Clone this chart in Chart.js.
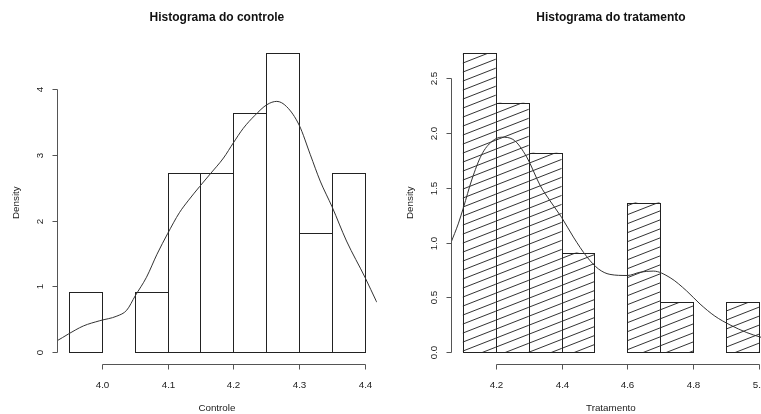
<!DOCTYPE html>
<html>
<head>
<meta charset="utf-8">
<script src="https://cdn.jsdelivr.net/npm/chart.js@4.4.1/dist/chart.umd.min.js"></script>
<style>
  html, body { margin: 0; padding: 0; background: #fff; width: 761px; height: 414px; overflow: hidden; }
  .panel { position: absolute; top: 0; width: 394px; height: 414px; }
  #p1 { left: 0; }
  #p2 { left: 394px; }
</style>
</head>
<body>
<div class="panel" id="p1"><canvas id="c1" width="394" height="414"></canvas></div>
<div class="panel" id="p2"><canvas id="c2" width="394" height="414"></canvas></div>
<script>
// ---- Controle ----
const controleBins = [3.975, 4.025, 4.075, 4.125, 4.175, 4.225, 4.275, 4.325, 4.375];
const controleDensity = [0.909, 0, 0.909, 2.727, 2.727, 3.636, 4.545, 1.818, 2.727];
const controleCurveX = [3.92, 3.932, 3.949, 3.972, 3.997, 4.023, 4.038, 4.051, 4.068, 4.084, 4.100, 4.118,
  4.132, 4.149, 4.165, 4.185, 4.200, 4.215, 4.233, 4.251, 4.266, 4.281, 4.300, 4.317, 4.332,
  4.350, 4.372, 4.400, 4.418, 4.43];
const controleCurveY = [0.12, 0.175, 0.276, 0.40, 0.48, 0.55, 0.64, 0.86, 1.14, 1.49, 1.80, 2.12,
  2.31, 2.52, 2.71, 2.95, 3.18, 3.40, 3.60, 3.76, 3.81, 3.73, 3.45, 3.00, 2.60,
  2.21, 1.69, 1.14, 0.76, 0.52];
const controleXTicks = [4.0, 4.1, 4.2, 4.3, 4.4];
const controleYTicks = [0, 1, 2, 3, 4];
const controleYLabels = ['0', '1', '2', '3', '4'];
const controleXLabels = ['4.0', '4.1', '4.2', '4.3', '4.4'];

// ---- Tratamento ----
const tratBins = [4.15, 4.25, 4.35, 4.45, 4.55, 4.65, 4.75, 4.85, 4.95];
const tratDensity = [2.727, 2.273, 1.818, 0.909, 0, 1.364, 0.455, 0, 0.455];
const tratCurveX = [4.064, 4.086, 4.102, 4.127, 4.157, 4.188, 4.218, 4.252, 4.294, 4.335, 4.365,
  4.400, 4.436, 4.477, 4.512, 4.547, 4.600, 4.639, 4.679, 4.730, 4.780, 4.821, 4.866,
  4.912, 4.963, 5.003, 5.04];
const tratCurveY = [1.00, 1.17, 1.32, 1.57, 1.80, 1.92, 1.96, 1.94, 1.78, 1.52, 1.38,
  1.23, 1.05, 0.87, 0.76, 0.71, 0.70, 0.73, 0.74, 0.68, 0.56, 0.44, 0.33,
  0.25, 0.18, 0.14, 0.11];
const tratXTicks = [4.2, 4.4, 4.6, 4.8, 5.0];
const tratYTicks = [0, 0.5, 1.0, 1.5, 2.0, 2.5];
const tratYLabels = ['0.0', '0.5', '1.0', '1.5', '2.0', '2.5'];
const tratXLabels = ['4.2', '4.4', '4.6', '4.8', '5.0'];

const FONT = '"Liberation Sans", Arial, Helvetica, sans-serif';
const INK = '#222';
const AXIS = '#555';

// Diagonal hatch used to fill the tratamento bars
function hatchPattern() {
  const W = 23, H = 9;
  const c = document.createElement('canvas');
  c.width = W; c.height = H;
  const g = c.getContext('2d');
  g.strokeStyle = '#333';
  g.lineWidth = 1;
  g.beginPath();
  for (let k = -1; k <= 1; k++) {
    g.moveTo(-2, H + k * H + 2 * H / W);
    g.lineTo(W + 2, k * H - 2 * H / W);
  }
  g.stroke();
  return g.createPattern(c, 'repeat');
}

// R-style axes, titles and bar outlines
const rStyle = {
  id: 'rStyle',
  afterDatasetDraw(chart, args, opts) {
    if (chart.data.datasets[args.index].type !== 'bar') return;
    const ctx = chart.ctx;
    ctx.save();
    ctx.strokeStyle = INK;
    ctx.lineWidth = 1;
    args.meta.data.forEach((el, i) => {
      const v = chart.data.datasets[args.index].data[i].y;
      if (!v) return;
      const p = el.getProps(['x', 'y', 'base', 'width'], true);
      const l = Math.round(p.x - p.width / 2) + 0.5;
      const r = Math.round(p.x + p.width / 2) + 0.5;
      const t = Math.round(p.y) + 0.5;
      const b = Math.round(p.base) + 0.5;
      ctx.strokeRect(l, t, r - l, b - t);
    });
    ctx.restore();
  },
  afterDraw(chart, args, o) {
    const ctx = chart.ctx;
    const area = chart.chartArea;
    const xs = chart.scales.x, ys = chart.scales.y;
    ctx.save();
    ctx.strokeStyle = AXIS;
    ctx.fillStyle = INK;
    ctx.lineWidth = 1;

    // x axis
    const ay = Math.round(area.bottom) + 0.5;
    const xp = o.xTicks.map(v => Math.round(xs.getPixelForValue(v)) + 0.5);
    ctx.beginPath();
    ctx.moveTo(xp[0], ay);
    ctx.lineTo(xp[xp.length - 1], ay);
    xp.forEach(px => { ctx.moveTo(px, ay); ctx.lineTo(px, ay + 5); });
    ctx.stroke();
    ctx.font = '9.8px ' + FONT;
    ctx.textAlign = 'center';
    ctx.textBaseline = 'middle';
    xp.forEach((px, i) => ctx.fillText(o.xLabels[i], px, area.bottom + 20.5));

    // y axis
    const ax = Math.round(area.left) + 0.5;
    const yp = o.yTicks.map(v => Math.round(ys.getPixelForValue(v)) + 0.5);
    ctx.beginPath();
    ctx.moveTo(ax, yp[0]);
    ctx.lineTo(ax, yp[yp.length - 1]);
    yp.forEach(py => { ctx.moveTo(ax, py); ctx.lineTo(ax - 5, py); });
    ctx.stroke();
    yp.forEach((py, i) => {
      ctx.save();
      ctx.translate(area.left - 17, py);
      ctx.rotate(-Math.PI / 2);
      ctx.fillText(o.yLabels[i], 0, 0);
      ctx.restore();
    });

    // axis titles
    ctx.fillText(o.xTitle, (area.left + area.right) / 2, 408.5);
    ctx.save();
    ctx.translate(area.left - 40.5, (area.top + area.bottom) / 2);
    ctx.rotate(-Math.PI / 2);
    ctx.fillText(o.yTitle, 0, 0);
    ctx.restore();

    // main title
    ctx.fillStyle = '#111';
    ctx.font = 'bold 12px ' + FONT;
    ctx.fillText(o.title, (area.left + area.right) / 2, 17.5);
    ctx.restore();
  }
};

function histogram(canvasId, bins, dens, cx, cy, xTicks, xLabels, yTicks, yLabels, breaks, fill, titles) {
  const span = breaks[1] - breaks[0];
  const yMax = Math.max(...dens);
  new Chart(document.getElementById(canvasId), {
    type: 'bar',
    data: {
      datasets: [
        {
          type: 'line',
          data: cx.map((x, i) => ({ x: x, y: cy[i] })),
          borderColor: '#333',
          borderWidth: 1,
          pointRadius: 0,
          cubicInterpolationMode: 'monotone',
          fill: false,
          order: 0
        },
        {
          type: 'bar',
          data: bins.map((x, i) => ({ x: x, y: dens[i] })),
          backgroundColor: fill,
          borderWidth: 0,
          inflateAmount: 0,
          categoryPercentage: 1,
          barPercentage: 1,
          order: 1
        }
      ]
    },
    options: {
      responsive: false,
      animation: false,
      events: [],
      layout: { padding: { left: 57, right: 17.2, top: 41, bottom: 49.7 } },
      plugins: {
        legend: { display: false },
        tooltip: { enabled: false },
        rStyle: {
          xTicks, xLabels, yTicks, yLabels,
          title: titles[0], xTitle: titles[1], yTitle: titles[2]
        }
      },
      scales: {
        x: {
          type: 'linear',
          display: false,
          offset: false,
          min: breaks[0] - 0.04 * span,
          max: breaks[1] + 0.04 * span,
          afterBuildTicks: s => { s.ticks = xTicks.map(v => ({ value: v })); }
        },
        y: {
          type: 'linear',
          display: false,
          min: -0.04 * yMax,
          max: yMax * 1.04
        }
      }
    },
    plugins: [rStyle]
  });
}

histogram('c1', controleBins, controleDensity, controleCurveX, controleCurveY,
  controleXTicks, controleXLabels, controleYTicks, controleYLabels, [3.95, 4.4],
  'rgba(255,255,255,0)', ['Histograma do controle', 'Controle', 'Density']);

histogram('c2', tratBins, tratDensity, tratCurveX, tratCurveY,
  tratXTicks, tratXLabels, tratYTicks, tratYLabels, [4.1, 5.0],
  hatchPattern(), ['Histograma do tratamento', 'Tratamento', 'Density']);
</script>
</body>
</html>
